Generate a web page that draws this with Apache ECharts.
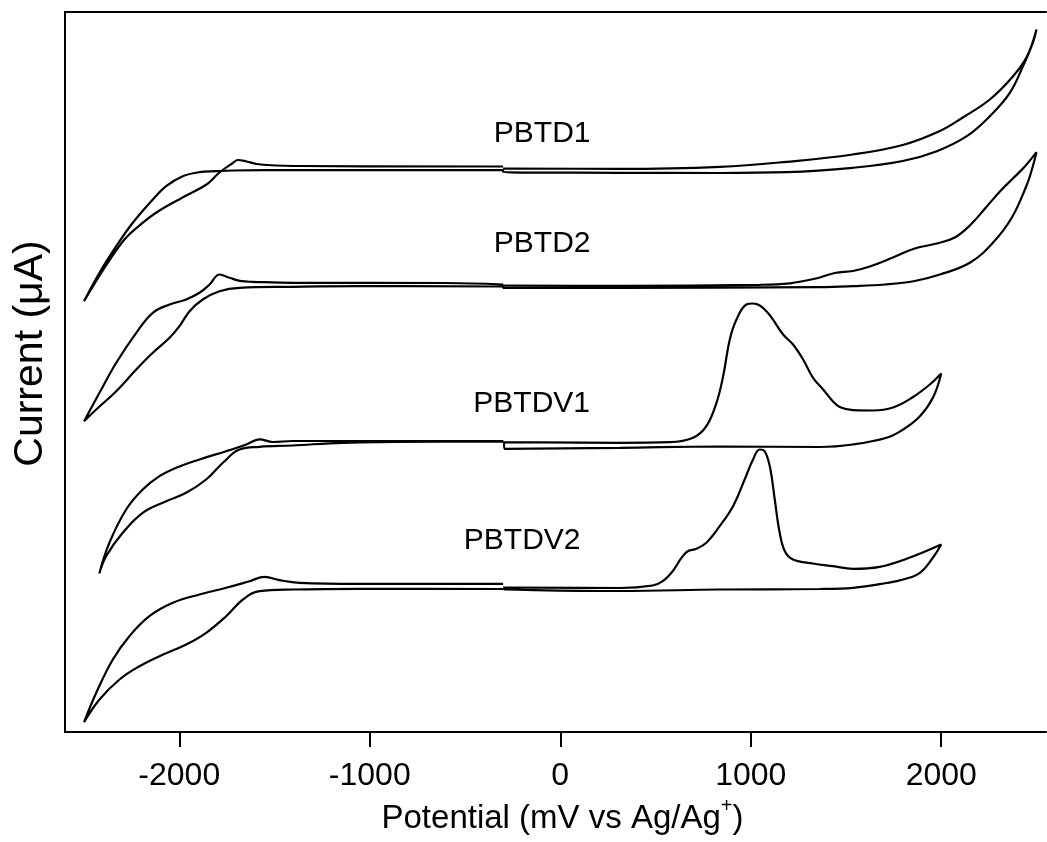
<!DOCTYPE html>
<html>
<head>
<meta charset="utf-8">
<script src="https://cdn.jsdelivr.net/npm/echarts@6/dist/echarts.min.js"></script>
<style>
  html, body { margin: 0; padding: 0; background: #fff; }
  #chart { width: 1047px; height: 842px; }
</style>
</head>
<body>
<div id="chart"></div>
<script>
// potential (mV) / current (arb., no scale shown) pairs, traced around each CV loop
const pbtd1 = [
  [-300, 563.5], [312, 563.2], [837, 565.2], [1189, 570.2], [1536, 577.5], [1798, 587], [1993, 601],
  [2113, 614.5], [2255, 632.5], [2376, 655.5], [2450, 675.5], [2500, 702.5],
  [2481, 689.2], [2429, 665.8], [2360, 639.2], [2255, 615.8], [2134, 595.8], [1977, 580.8], [1798, 571],
  [1536, 564.2], [1189, 559.8], [837, 559], [312, 559.2], [-300, 559.8],
  [-300, 562], [-1369, 561.8], [-1544, 561.8], [-1719, 561.5], [-1806, 560.8], [-1894, 559.8], [-1982, 555.8],
  [-2069, 545.8], [-2139, 532.5], [-2244, 509.2], [-2331, 485.8], [-2419, 459.2], [-2500, 430.8],
  [-2388, 465.5], [-2288, 492.5], [-2209, 506.5], [-2120, 519.5], [-1983, 534.5], [-1857, 547.5], [-1789, 559.5],
  [-1719, 569], [-1692, 572], [-1647, 570.5], [-1595, 568], [-1542, 567], [-1369, 566], [-300, 565.5]
];
const pbtd2 = [
  [-300, 446.5], [312, 446.2], [1047, 447.2], [1205, 448.7], [1336, 453.2], [1441, 459], [1536, 461],
  [1625, 465.5], [1746, 474.5], [1861, 483.5], [1977, 488.5], [2071, 494.5], [2150, 506.5], [2239, 525.5],
  [2308, 540.5], [2376, 553.5], [2439, 565.5], [2500, 579.8],
  [2476, 562.5], [2450, 547.5], [2371, 514.5], [2271, 489.2], [2150, 469.2], [1993, 457.5], [1861, 451],
  [1704, 447.5], [1536, 445.8], [1362, 444.8], [312, 444.2], [-300, 444],
  [-300, 445.5], [-1054, 445.8], [-1404, 445.2], [-1684, 444.2], [-1789, 440.8], [-1877, 432.5], [-1946, 420.8],
  [-1999, 405.8], [-2051, 394.2], [-2139, 379.2], [-2226, 362.5], [-2331, 340.8], [-2436, 322.5], [-2500, 310.8],
  [-2419, 339.2], [-2331, 369.2], [-2226, 399.2], [-2139, 419.2], [-2051, 427.5], [-1964, 432.5], [-1894, 439.2],
  [-1841, 447.5], [-1789, 457.5], [-1736, 454.2], [-1675, 450.8], [-1614, 450.2], [-1404, 449.2], [-598, 449],
  [-300, 447.5]
];
const pbtdv1 = [
  [-300, 289.8], [312, 289.2], [575, 289.8], [697, 294.2], [767, 305.8], [820, 329.2], [855, 355.8], [890, 392.5],
  [925, 412.5], [977, 427.5], [1012, 428.5], [1082, 420.8], [1170, 397.5], [1222, 387.5], [1275, 372.5],
  [1327, 354.2], [1380, 342.5], [1432, 330.5], [1467, 325], [1537, 321.8], [1642, 321.5], [1747, 324.5],
  [1852, 335], [1940, 347.5], [2000, 358.5],
  [1957, 334.5], [1888, 315.8], [1800, 302.5], [1713, 294.2], [1537, 287.5], [1362, 285], [837, 285.5],
  [312, 284.2], [-290, 283.2],
  [-300, 290.5], [-1141, 289.2], [-1404, 286.5], [-1579, 285.2], [-1684, 282.5], [-1771, 269.2], [-1859, 252.5],
  [-1964, 239.2], [-2069, 230.8], [-2192, 219.2], [-2297, 199.2], [-2384, 175.8], [-2420, 158.5],
  [-2367, 189.2], [-2279, 222.5], [-2192, 242.5], [-2104, 255.8], [-2016, 264.2], [-1894, 272.5], [-1754, 280.8],
  [-1649, 287.5], [-1579, 292.7], [-1509, 290], [-1404, 291], [-1141, 291], [-300, 291]
];
const pbtdv2 = [
  [-300, 144.5], [312, 144], [485, 146.5], [538, 150.8], [590, 160.8], [636, 174.2], [669, 180.8], [715, 183.2],
  [767, 189.2], [837, 205.8], [907, 225.8], [968, 252.5], [1012, 272.5], [1047, 282.5], [1073, 280.8],
  [1100, 265.8], [1126, 232.5], [1152, 199.2], [1179, 180.8], [1222, 172.5], [1327, 168.5], [1432, 165.8],
  [1537, 163.2], [1677, 165.2], [1818, 173.2], [2000, 187.5],
  [1957, 174.5], [1888, 159.2], [1800, 152.5], [1713, 149], [1537, 144.2], [1362, 143], [837, 142.5],
  [312, 141], [-290, 142.5],
  [-300, 143], [-1054, 143.2], [-1404, 142.5], [-1579, 140.8], [-1666, 132.5], [-1754, 115.8], [-1859, 99.2],
  [-1964, 87.5], [-2104, 75.8], [-2209, 65.8], [-2314, 52.5], [-2419, 32.5], [-2500, 9.8],
  [-2436, 39.2], [-2349, 72.5], [-2262, 95.8], [-2157, 115.8], [-2034, 129.2], [-1894, 137.5], [-1754, 144.2],
  [-1631, 150.8], [-1552, 155.2], [-1474, 151.8], [-1369, 149.2], [-1054, 148.2], [-300, 148.2]
];

const curveNames = ['PBTD1', 'PBTD2', 'PBTDV1', 'PBTDV2'];
const curves = [pbtd1, pbtd2, pbtdv1, pbtdv2];
const labelPotential = [-95, -95, -150, -200];
const labelCurrent = [598.5, 488.5, 328.5, 191.5];
const xTicks = [-2000, -1000, 0, 1000, 2000];

const font = 'Liberation Sans, Arial, sans-serif';

const chart = echarts.init(document.getElementById('chart'));

let series = curves.map(function (pts, i) {
    return {
        name: curveNames[i],
        type: 'line',
        data: pts,
        symbol: 'none',
        smooth: 0.4,
        lineStyle: { color: '#000', width: 2.2 },
        z: 3
    }
});
// curve names, placed in data coordinates
series.push({
    type: 'scatter',
    symbolSize: 1,
    itemStyle: { color: 'transparent', opacity: 1 },
    label: {
        show: true,
        position: 'inside',
        formatter: function (p) { return p.name },
        fontFamily: font,
        fontSize: 30,
        color: '#000',
        textBorderWidth: 0
    },
    data: curveNames.map(function (n, i) {
        return { name: n, value: [labelPotential[i], labelCurrent[i]] }
    })
});

chart.setOption({
    animation: false,
    backgroundColor: '#fff',
    grid: { left: 65, right: 1, top: 12, bottom: 110 },
    xAxis: [{
        type: 'value',
        min: -2600,
        max: 2550,
        axisLine: { show: true, onZero: false, lineStyle: { color: '#000', width: 2 } },
        axisTick: { show: true, inside: false, length: 15, customValues: xTicks, lineStyle: { color: '#000', width: 2 } },
        axisLabel: {
            customValues: xTicks, fontSize: 32, fontFamily: font, color: '#000', margin: 28,
            formatter: function (v) { return String(v) }
        },
        splitLine: { show: false },
        name: '{t|Potential (mV vs Ag/Ag}{s|+}{t|)}',
        nameLocation: 'middle',
        nameGap: 58,
        nameTextStyle: {
            padding: [0, 0, 0, 14],
            rich: {
                t: { fontSize: 33, lineHeight: 44, fontFamily: font, color: '#000' },
                s: { fontSize: 20, lineHeight: 16, fontFamily: font, color: '#000', verticalAlign: 'top' }
            }
        }
    }, {
        type: 'value',
        position: 'top',
        min: -2600,
        max: 2550,
        axisLine: { show: true, onZero: false, lineStyle: { color: '#000', width: 2 } },
        axisTick: { show: false },
        axisLabel: { show: false },
        splitLine: { show: false }
    }],
    yAxis: {
        type: 'value',
        min: 0,
        max: 720,
        axisLine: { show: true, onZero: false, lineStyle: { color: '#000', width: 2 } },
        axisTick: { show: false },
        axisLabel: { show: false },
        splitLine: { show: false },
        name: 'Current (μA)',
        nameLocation: 'middle',
        nameGap: 14,
        nameTextStyle: { fontSize: 41, fontFamily: font, color: '#000', padding: [0, 0, 0, 37] }
    },
    series: series
});
</script>
</body>
</html>
